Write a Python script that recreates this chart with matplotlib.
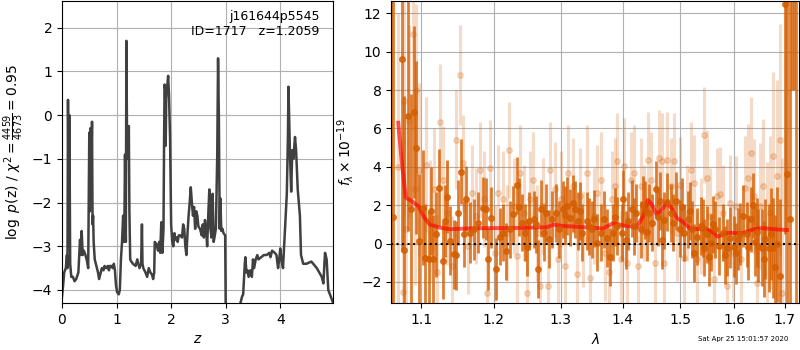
import numpy as np
import matplotlib
matplotlib.use("Agg")
import matplotlib.pyplot as plt
from matplotlib.ticker import FixedLocator, NullLocator, FormatStrFormatter

# --- p(z) curve ---
z_grid = [0.00, 0.02, 0.04, 0.07, 0.09, 0.10, 0.11, 0.125, 0.135, 0.15, 0.17, 0.20, 0.23, 0.26,
          0.30, 0.33, 0.35, 0.36, 0.38, 0.40, 0.43, 0.46, 0.48, 0.50, 0.51, 0.52, 0.535, 0.55,
          0.56, 0.57, 0.58, 0.60, 0.62, 0.64, 0.66, 0.68, 0.70, 0.73, 0.76, 0.78, 0.81, 0.84,
          0.86, 0.88, 0.90, 0.93, 0.95, 0.97, 0.99, 1.01, 1.04, 1.06, 1.08, 1.10, 1.12, 1.14,
          1.155, 1.17, 1.18, 1.19, 1.20, 1.21, 1.225, 1.235, 1.25, 1.27, 1.30, 1.35, 1.38, 1.42,
          1.45, 1.465, 1.475, 1.49, 1.53, 1.56, 1.59, 1.62, 1.65, 1.67, 1.69, 1.70, 1.73, 1.76,
          1.78, 1.80, 1.82, 1.84, 1.86, 1.87, 1.88, 1.89, 1.90, 1.91, 1.93, 1.945, 1.96, 1.98,
          2.00, 2.02, 2.04, 2.06, 2.08, 2.10, 2.12, 2.14, 2.17, 2.20, 2.22, 2.24, 2.26, 2.28,
          2.30, 2.32, 2.34, 2.36, 2.38, 2.40, 2.42, 2.44, 2.46, 2.48, 2.50, 2.53, 2.56, 2.58,
          2.60, 2.62, 2.64, 2.66, 2.68, 2.70, 2.72, 2.74, 2.76, 2.78, 2.82, 2.845, 2.86, 2.875,
          2.89, 2.90, 2.92, 2.94, 2.96, 2.99, 3.01, 3.25, 3.27, 3.30, 3.32, 3.35, 3.36, 3.38,
          3.40, 3.42, 3.45, 3.48, 3.50, 3.52, 3.55, 3.58, 3.60, 3.65, 3.70, 3.75, 3.80, 3.82,
          3.85, 3.90, 3.93, 3.96, 3.98, 4.00, 4.02, 4.05, 4.09, 4.12, 4.14, 4.15, 4.18, 4.20,
          4.22, 4.24, 4.27, 4.29, 4.32, 4.36, 4.38, 4.42, 4.48, 4.57, 4.67, 4.76, 4.79, 4.82,
          4.85, 4.88, 4.94, 4.97]
logp = [-4.15, -3.9, -3.6, -3.5, -3.2, -3.5, 0.35, -3.0, 0.0, -3.4, -3.7, -3.7, -3.8, -3.75,
        -3.6, -2.85, -3.2, -2.65, -3.2, -3.1, -3.2, -3.35, -3.5, -0.4, -2.2, -0.3, -1.6, -0.15,
        -2.5, -2.3, -2.9, -3.3, -3.4, -3.5, -3.6, -3.75, -3.65, -3.5, -3.55, -3.45, -3.5, -3.45,
        -3.55, -3.45, -3.45, -3.5, -3.4, -3.55, -3.9, -4.05, -4.1, -4.0, -3.3, -2.9, -2.3, -2.9,
        -0.9, -2.9, 1.7, -0.2, -1.0, -0.9, -0.25, -2.2, -3.3, -3.35, -3.4, -3.45, -3.3, -3.5,
        -3.4, -2.5, -3.4, -3.5, -3.6, -3.7, -3.5, -3.6, -3.65, -3.75, -3.6, -2.9, -2.95, -3.1,
        -2.9, -3.15, -2.45, -3.15, -2.6, -0.7, 0.7, 0.6, -0.7, 0.4, 0.7, 0.9, 0.5, -0.5,
        -2.5, -2.9, -3.0, -2.7, -2.85, -2.8, -2.9, -2.75, -2.75, -2.8, -2.5, -2.6, -3.0, -3.2,
        -2.7, -2.3, -2.0, -1.65, -2.0, -2.3, -2.1, -2.6, -2.2, -2.3, -2.55, -2.6, -2.75, -2.5,
        -2.8, -2.4, -2.6, -3.0, -2.3, -1.7, -2.6, -2.8, -1.8, -2.9, -2.6, -0.9, 1.3, -0.1,
        -2.6, -1.9, -2.65, -2.6, -2.7, -2.75, -6.0, -6.0, -4.3, -4.15, -4.1, -3.4, -3.25, -3.6,
        -3.55, -3.7, -3.55, -3.7, -3.3, -3.5, -3.3, -3.2, -3.3, -3.25, -3.2, -3.2, -3.15, -3.25,
        -3.1, -3.15, -3.2, -3.5, -3.3, -3.05, -3.3, -3.5, -2.5, -1.8, -0.5, 0.65, -1.0, -1.75,
        -0.8, -1.0, -0.5, -0.8, -1.7, -2.3, -3.2, -3.4, -3.4, -3.35, -3.5, -3.7, -3.85, -3.15,
        -3.3, -4.0, -4.2, -4.3]

# --- spectrum, binned (dark) ---
lam_dark = [1.0610, 1.0627, 1.0742, 1.0779, 1.0825, 1.0862, 1.0899, 1.0935, 1.0972, 1.1028,
            1.1055, 1.1101, 1.1134, 1.1194, 1.1240, 1.1286, 1.1318, 1.1350, 1.1387, 1.1442,
            1.1498, 1.1539, 1.1608, 1.1664, 1.1710, 1.1779, 1.1848, 1.1922, 1.1963, 1.2035,
            1.2085, 1.2134, 1.2234, 1.2274, 1.2333, 1.2408, 1.2458, 1.2522, 1.2592, 1.2657,
            1.2692, 1.2741, 1.2811, 1.2871, 1.2930, 1.2980, 1.3033, 1.3098, 1.3152, 1.3223,
            1.3277, 1.3342, 1.3413, 1.3489, 1.3576, 1.3641, 1.3696, 1.3783, 1.3848, 1.3913,
            1.3995, 1.4012, 1.4099, 1.4158, 1.4228, 1.4304, 1.4374, 1.4450, 1.4509, 1.4567,
            1.4643, 1.4713, 1.4772, 1.4842, 1.4918, 1.4994, 1.5067, 1.5140, 1.5220, 1.5299,
            1.5372, 1.5433, 1.5494, 1.5567, 1.5646, 1.5707, 1.5787, 1.5860, 1.5921, 1.5994,
            1.6072, 1.6164, 1.6243, 1.6322, 1.6401, 1.6474, 1.6539, 1.6605, 1.6691, 1.6770,
            1.6836, 1.6914, 1.7000, 1.7046, 1.7110, 1.7150, 1.7200, 1.7240,
            1.1160, 1.1470, 1.1580, 1.1880, 1.2180, 1.2370, 1.2490, 1.2620, 1.2780, 1.3060,
            1.3190, 1.3310, 1.3450, 1.3530, 1.3740, 1.3880, 1.4060, 1.4190, 1.4340, 1.4410,
            1.4600, 1.4680, 1.4880, 1.5030, 1.5180, 1.5260, 1.5410, 1.5530, 1.5610, 1.5830,
            1.6030, 1.6120, 1.6280, 1.6360, 1.6440, 1.6580, 1.6730, 1.6800]
flux_dark = [-6.0, 1.4, 9.6, -0.33, 6.67, 1.78, 6.86, 4.99, 0.14, 1.87,
             -0.74, -0.81, 1.70, 0.48, 2.91, -0.90, 1.18, 2.44, 0.14, -0.55,
             1.61, 3.74, 2.35, 0.57, 0.74, 1.09, 1.87, -0.81, 1.35, -1.33,
             0.36, 0.57, 0.74, 1.52, 3.03, 1.09, 0.57, 1.18, 1.26, -1.33,
             1.82, 0.57, 0.23, 1.26, 1.61, 0.74, 1.78, 1.96, 1.35, 1.78,
             1.18, 0.57, 1.18, 0.74, 0.05, 0.57, 1.26, -0.69, 0.57, 0.92,
             0.57, 2.34, 1.18, 1.82, 1.61, 0.74, 1.75, 1.61, 1.09, 2.82,
             2.22, 1.21, 2.18, 1.61, 2.22, 0.78, 0.57, 1.26, 0.74, 0.36,
             0.92, -0.21, 0.48, 0.05, 0.74, -0.12, 0.57, -0.21, 0.31, -0.16,
             0.23, 1.44, 0.48, 1.26, 0.09, -0.12, -0.21, 0.23, -0.21, -0.21,
             -0.03, -1.68, 12.5, 3.65, 1.26, 16.0, 15.0, -8.0,
             -0.8, -0.6, 0.5, 1.8, -0.4, 1.9, -0.2, 1.0, 1.6, 1.5,
             2.1, 1.7, 0.9, 1.3, 0.3, 1.4, 0.2, 0.9, 2.0, 0.6,
             1.4, 0.2, 1.1, 1.9, 1.7, -0.5, 0.8, -0.7, 1.0, -0.6,
             -0.5, 0.5, -0.2, 2.0, 0.6, -0.8, 0.5, -1.2]
err_dark = [30, 20, 10, 8, 6, 6, 4.5, 4.5, 3.5, 3.0,
            2.8, 2.5, 2.3, 2.2, 2.0, 2.0, 1.9, 1.9, 1.8, 1.8,
            1.7, 1.7, 1.7, 1.6, 1.6, 1.6, 1.6, 1.6, 1.6, 1.6,
            1.5, 1.5, 1.5, 1.5, 1.5, 1.5, 1.5, 1.5, 1.5, 1.5,
            1.5, 1.5, 1.5, 1.5, 1.5, 1.5, 1.5, 1.5, 1.5, 1.5,
            1.5, 1.5, 1.5, 1.5, 1.5, 1.5, 1.5, 1.5, 1.5, 1.5,
            1.5, 1.5, 1.5, 1.5, 1.5, 1.5, 1.5, 1.5, 1.5, 1.5,
            1.5, 1.5, 1.5, 1.5, 1.5, 1.5, 1.5, 1.5, 1.5, 1.5,
            1.5, 1.5, 1.5, 1.5, 1.5, 1.5, 1.5, 1.5, 1.6, 1.6,
            1.6, 1.6, 1.7, 1.7, 1.8, 1.9, 2.0, 2.1, 2.3, 2.6,
            3.0, 4.0, 12, 9, 15, 8, 7, 25,
            2.3, 1.8, 1.7, 1.6, 1.5, 1.5, 1.5, 1.5, 1.5, 1.5,
            1.5, 1.5, 1.5, 1.5, 1.5, 1.5, 1.5, 1.5, 1.5, 1.5,
            1.5, 1.5, 1.5, 1.5, 1.5, 1.5, 1.5, 1.5, 1.5, 1.5,
            1.6, 1.6, 1.7, 1.7, 1.8, 2.0, 2.4, 2.7]

# --- spectrum, unbinned (light) ---
lam_light = [1.0700, 1.0760, 1.0779, 1.0797, 1.0843, 1.0890, 1.0917, 1.0935, 1.0963, 1.1065,
             1.1111, 1.1166, 1.1203, 1.1249, 1.1295, 1.1341, 1.1410, 1.1461, 1.1516, 1.1562,
             1.1627, 1.1687, 1.1747, 1.1802, 1.1857, 1.1894, 1.1949, 1.2010, 1.2060, 1.2124,
             1.2184, 1.2224, 1.2294, 1.2343, 1.2383, 1.2443, 1.2483, 1.2532, 1.2582, 1.2632,
             1.2682, 1.2731, 1.2806, 1.2841, 1.2905, 1.2955, 1.3005, 1.3060, 1.3114, 1.3185,
             1.3250, 1.3304, 1.3359, 1.3413, 1.3467, 1.3522, 1.3576, 1.3641, 1.3712, 1.3772,
             1.3820, 1.3875, 1.3913, 1.3967, 1.4023, 1.4082, 1.4140, 1.4199, 1.4257, 1.4304,
             1.4363, 1.4433, 1.4491, 1.4550, 1.4626, 1.4684, 1.4713, 1.4772, 1.4830, 1.4889,
             1.4947, 1.5006, 1.5067, 1.5128, 1.5189, 1.5250, 1.5311, 1.5372, 1.5433, 1.5494,
             1.5555, 1.5616, 1.5677, 1.5738, 1.5799, 1.5860, 1.5921, 1.5982, 1.6046, 1.6125,
             1.6210, 1.6276, 1.6322, 1.6388, 1.6440, 1.6507, 1.6572, 1.6638, 1.6703, 1.6770,
             1.6836, 1.6901, 1.6954]
flux_light = [4.0, -2.5, 7.41, 0.74, 6.37, 10.9, 2.82, 8.0, 3.86, 4.12,
              1.18, 2.82, -1.5, 6.34, 3.34, 1.61, -1.16, 5.42, 8.78, 4.21,
              -0.12, 2.65, 1.44, 3.86, 2.3, -2.55, 3.95, -0.47, 2.65, 2.3,
              0.57, 4.9, 1.96, -0.64, 3.69, 1.61, -2.55, 2.3, 3.34, 0.57,
              -2.2, 1.96, -2.2, 3.86, 2.82, -0.81, 2.3, -1.16, 3.69, 3.0,
              -1.59, 2.47, 0.23, 3.69, -1.77, 1.44, 2.65, 3.34, -0.47, -1.5,
              2.3, 3.0, 4.29, -0.81, 4.03, -0.99, 3.34, 3.69, -1.16, 3.0,
              1.61, 4.38, 3.34, -0.99, 4.47, 4.29, -0.99, 4.38, 3.0, 4.29,
              0.57, 3.08, -0.73, 1.61, 3.86, 3.17, -0.81, 0.92, 5.68, 3.43,
              1.44, -1.85, 2.47, 2.56, 1.61, -2.2, 2.13, -0.47, 1.96, -0.81,
              2.91, 3.43, 4.73, 2.47, -2.03, 1.96, 3.0, 0.57, 1.61, 4.55,
              3.51, 5.42, -2.55]
err_light = [8, 8, 6, 6, 5, 5, 5, 4.5, 4.5, 3.5,
             3.2, 3.2, 3.0, 3.0, 2.8, 2.7, 2.6, 2.6, 2.6, 2.5,
             2.5, 2.5, 2.5, 2.5, 2.5, 2.5, 2.5, 2.5, 2.5, 2.5,
             2.5, 2.5, 2.5, 2.5, 2.5, 2.5, 2.5, 2.5, 2.5, 2.5,
             2.5, 2.5, 2.5, 2.5, 2.5, 2.5, 2.5, 2.5, 2.5, 2.5,
             2.5, 2.5, 2.5, 2.5, 2.5, 2.5, 2.5, 2.5, 2.5, 2.5,
             2.5, 2.5, 2.5, 2.5, 2.5, 2.5, 2.5, 2.5, 2.5, 2.5,
             2.5, 2.5, 2.5, 2.5, 2.5, 2.5, 2.5, 2.5, 2.5, 2.5,
             2.5, 2.5, 2.5, 2.5, 2.5, 2.5, 2.5, 2.5, 2.5, 2.5,
             2.5, 2.5, 2.5, 2.5, 2.5, 2.5, 2.5, 2.5, 2.6, 2.6,
             2.7, 2.8, 2.9, 3.0, 3.1, 3.3, 3.5, 3.7, 4.0, 4.4,
             5.0, 6.0, 7.0]

# --- best-fit model ---
lam_model = [1.070, 1.0742, 1.0797, 1.0880, 1.0963, 1.1041, 1.1111, 1.125, 1.139, 1.171,
             1.2035, 1.228, 1.278, 1.289, 1.303, 1.350, 1.367, 1.384, 1.401, 1.424,
             1.435, 1.443, 1.450, 1.458, 1.468, 1.476, 1.486, 1.494, 1.503, 1.518,
             1.549, 1.561, 1.569, 1.580, 1.590, 1.608, 1.620, 1.637, 1.656, 1.683, 1.705]
flux_model = [6.3, 4.4, 2.4, 2.2, 1.95, 1.35, 1.0, 0.83, 0.75, 0.80,
              0.81, 0.81, 0.85, 0.99, 0.92, 0.83, 0.78, 1.06, 0.95, 0.85,
              1.44, 2.27, 2.04, 1.52, 1.78, 2.16, 1.78, 1.33, 1.18, 0.78,
              0.74, 0.57, 0.36, 0.48, 0.57, 0.54, 0.57, 0.74, 0.81, 0.74, 0.71]

g141_color = (0.835, 0.369, 0.0)

fig = plt.figure(figsize=(8, 3.5), dpi=100)
ax1 = fig.add_axes([0.0775, 0.134, 0.339, 0.863])
ax2 = fig.add_axes([0.489, 0.134, 0.51, 0.863])

# left: p(z)
ax1.plot(z_grid, logp, color='0.25', lw=1.8)
ax1.set_xlim(0, 4.97)
ax1.set_ylim(-4.3, 2.61)
ax1.set_xticks([0, 1, 2, 3, 4])
ax1.set_yticks([-4, -3, -2, -1, 0, 1, 2])
ax1.set_xlabel('$z$')
ax1.set_ylabel(r'$\log\ p$(z) / $\chi^2=\frac{4459}{4673}=0.95$')
ax1.text(0.95, 0.97, 'j161644p5545\nID=1717   z=1.2059', transform=ax1.transAxes,
         ha='right', va='top', fontsize=9)
ax1.grid(True)

# right: spectrum
ax2.errorbar(lam_light, flux_light, yerr=err_light, fmt='o', color=g141_color,
             alpha=0.22, ms=4, elinewidth=2.2, linestyle='None')
ax2.errorbar(lam_dark, flux_dark, yerr=err_dark, fmt='o', color=g141_color,
             alpha=0.8, ms=4, elinewidth=2, linestyle='None')
ax2.plot(lam_model, flux_model, color='red', alpha=0.65, lw=2.8)
ax2.axhline(0, color='k', linestyle=':', lw=1.5)
ax2.set_xscale('log')
ax2.set_xlim(1.061, 1.73)
ax2.set_ylim(-3.1, 12.64)
ax2.xaxis.set_major_locator(FixedLocator([1.1, 1.2, 1.3, 1.4, 1.5, 1.6, 1.7]))
ax2.xaxis.set_major_formatter(FormatStrFormatter('%.1f'))
ax2.xaxis.set_minor_locator(NullLocator())
ax2.set_yticks([-2, 0, 2, 4, 6, 8, 10, 12])
ax2.set_xlabel(r'$\lambda$')
ax2.set_ylabel(r'$f_\lambda\times10^{-19}$')
ax2.grid(True)

fig.text(0.985, 0.031, 'Sat Apr 25 15:01:57 2020', ha='right', va='center', fontsize=5)

fig.savefig('out.png', dpi=100)
